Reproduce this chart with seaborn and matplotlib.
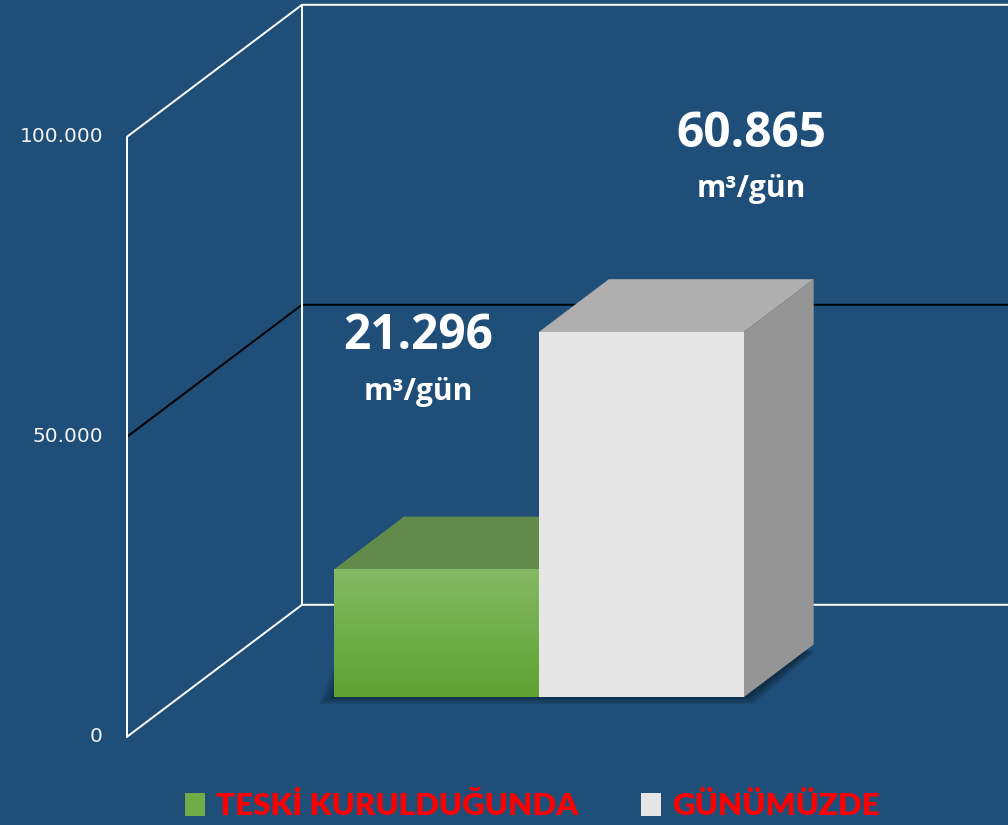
import numpy as np
import pandas as pd
import seaborn as sns
import matplotlib.pyplot as plt
from matplotlib.patches import Polygon, Patch

# data
categories = ['TESKİ KURULDUĞUNDA', 'GÜNÜMÜZDE']
values = [21296, 60865]
value_labels = ['21.296', '60.865']
unit_label = 'm³/gün'
tick_values = [0, 50000, 100000]
tick_labels = ['0', '50.000', '100.000']

BG = '#1F4E78'
FRONT = ['#6DAE42', '#E6E6E6']
TOP = ['#628A4B', '#AFAFAF']
SIDE = ['#4E7A35', '#959595']

# fake 3d: offset per full depth (category units, value units)
DX, DY = 0.854, 22000
BAR_DEPTH = 0.4
WALL_FRONT, WALL_BACK = -0.3, 0.7
WALL_X = -1.254


def proj(x, v, d):
    return x + d * DX, v + d * DY


def plot(df):
    sns.set_style('white')
    fig = plt.figure(figsize=(10.08, 8.25), dpi=100, facecolor=BG)
    ax = fig.add_axes([0, 0, 1, 1])
    ax.set_facecolor(BG)

    sns.barplot(data=df, x='cat', y='val', hue='cat', palette=FRONT,
                width=1.0, legend=False, ax=ax, zorder=5, linewidth=0)

    xlim = (-2.13, 2.79)
    ylim = (-21300, 116200)

    # walls
    lw = 1.4
    for v, col in [(0, 'white'), (50000, 'black'), (100000, 'white')]:
        p0 = proj(WALL_X, v, WALL_FRONT)
        p1 = proj(WALL_X, v, WALL_BACK)
        ax.plot([p0[0], p1[0], xlim[1]], [p0[1], p1[1], p1[1]],
                color=col, lw=lw, zorder=1, solid_capstyle='butt')
    for d in (WALL_FRONT, WALL_BACK):
        p0 = proj(WALL_X, 0, d)
        p1 = proj(WALL_X, 100000, d)
        ax.plot([p0[0], p1[0]], [p0[1], p1[1]], color='white', lw=lw, zorder=1)

    # tick labels on the front wall
    for v, lab in zip(tick_values, tick_labels):
        px, py = proj(WALL_X, v, WALL_FRONT)
        ax.annotate(lab, (px, py), xytext=(-24, 0), textcoords='offset pixels',
                    ha='right', va='center', color='#F2F2F2', fontsize=14.5,
                    family='DejaVu Sans')

    bars = ax.patches[:len(values)]

    # soft shadow under the bars
    x0 = bars[0].get_x()
    x1 = bars[-1].get_x() + bars[-1].get_width()
    for k in range(8):
        s = 1 - k / 8
        pts = [proj(x0 - 0.09 * s, -1600 * s, 0.02), proj(x1 + 0.03 * s, -1600 * s, 0.02),
               proj(x1 + 0.03 * s, -600 * s, BAR_DEPTH - 0.03),
               proj(x0 - 0.09 * s, 2500, 0.1)]
        ax.add_patch(Polygon(pts, closed=True, facecolor='#081726',
                             alpha=0.1, lw=0, zorder=2))

    for i, b in enumerate(bars):
        bx, bw, h = b.get_x(), b.get_width(), b.get_height()
        z = 5 + 2 * i
        b.set_zorder(z)
        top = [proj(bx, h, 0), proj(bx + bw, h, 0),
               proj(bx + bw, h, BAR_DEPTH), proj(bx, h, BAR_DEPTH)]
        ax.add_patch(Polygon(top, closed=True, facecolor=TOP[i], lw=0, zorder=z - 0.5))
        side = [proj(bx + bw, 0, 0), proj(bx + bw, h, 0),
                proj(bx + bw, h, BAR_DEPTH), proj(bx + bw, 0, BAR_DEPTH)]
        ax.add_patch(Polygon(side, closed=True, facecolor=SIDE[i], lw=0, zorder=z - 0.5))
        if i == 0:
            grad = np.linspace(0, 1, 256).reshape(-1, 1)
            cmap = sns.blend_palette(['#5EA232', '#85BA64'], as_cmap=True)
            im = ax.imshow(grad, extent=(bx, bx + bw, 0, h), origin='lower',
                           cmap=cmap, aspect='auto', zorder=z + 0.1)
            im.set_clip_path(b)

    # value labels
    offsets = [(-0.09, 38800), (0.535, 33000)]
    for i, b in enumerate(bars):
        cx = b.get_x() + b.get_width() / 2 + offsets[i][0]
        cy = b.get_height() + offsets[i][1]
        ax.text(cx, cy, value_labels[i], ha='center', va='center', color='white',
                fontsize=34.5, fontweight='bold', family='Open Sans', zorder=20)
        ax.text(cx, cy - 9200, unit_label, ha='center', va='center', color='white',
                fontsize=21.5, fontweight='bold', family='Open Sans', zorder=20)

    ax.set_xlim(*xlim)
    ax.set_ylim(*ylim)
    ax.axis('off')

    handles = [Patch(facecolor=c, edgecolor='none') for c in ['#70AD47', '#E6E6E6']]
    leg = fig.legend(handles, categories, loc='lower center', ncol=2,
                     bbox_to_anchor=(0.528, -0.028), frameon=False,
                     handlelength=0.65, handleheight=0.75, handletextpad=0.35,
                     columnspacing=2.0,
                     prop={'family': 'Lato', 'weight': 'heavy', 'size': 22.5})
    for t in leg.get_texts():
        t.set_color('#FF0000')

    fig.savefig('out.png', dpi=100, facecolor=BG)
    plt.close(fig)


data = pd.DataFrame({'cat': categories, 'val': values})
plot(data)
